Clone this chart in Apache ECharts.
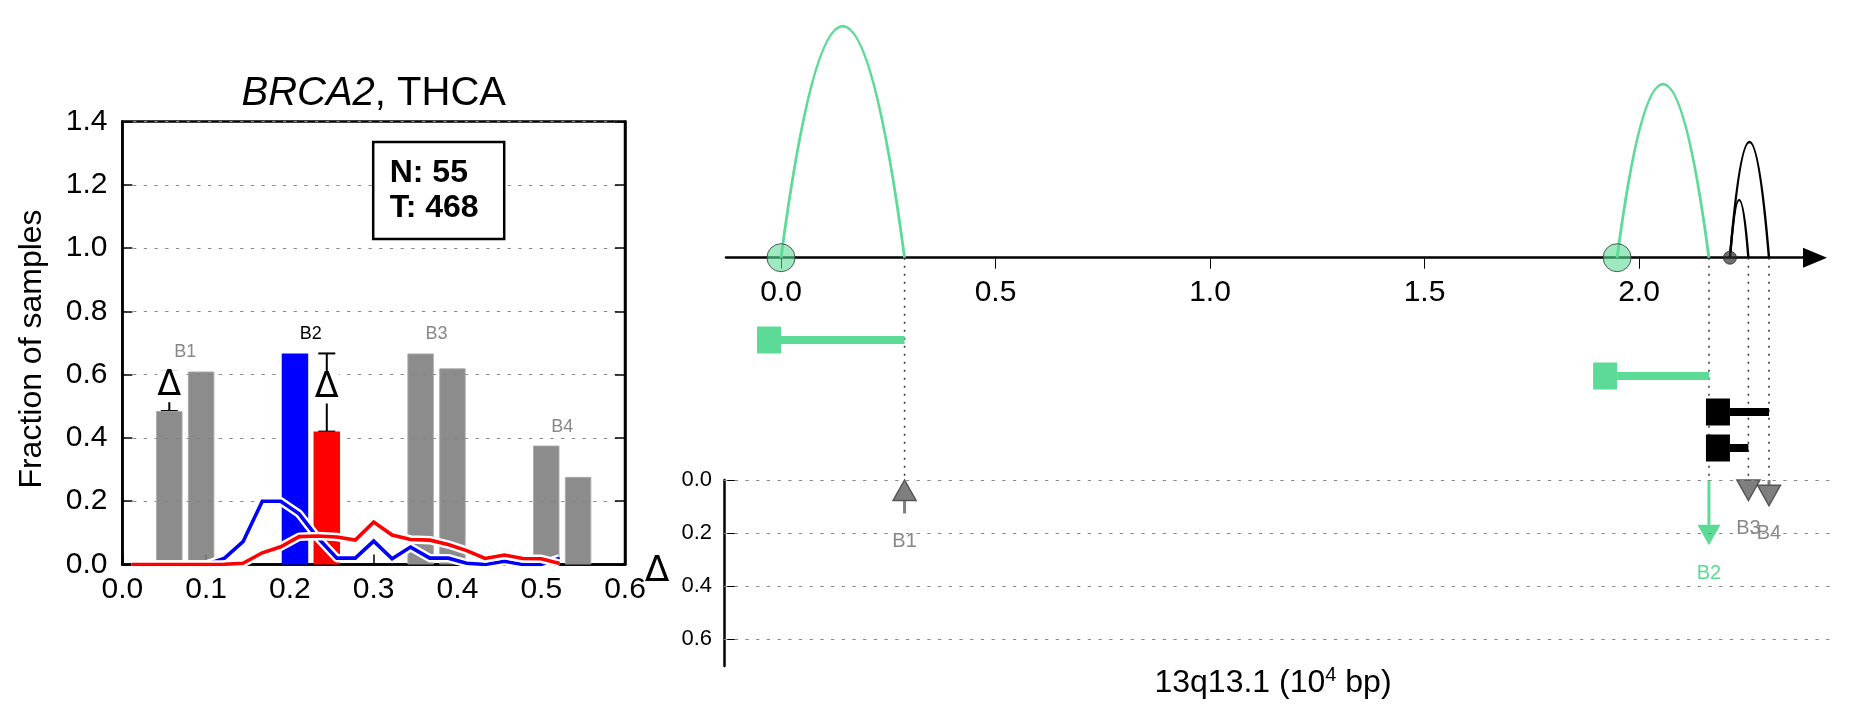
<!DOCTYPE html>
<html><head><meta charset="utf-8">
<script src="https://cdn.jsdelivr.net/npm/echarts@6/dist/echarts.min.js"></script>
<style>html,body{margin:0;padding:0;background:#fff}#c{width:1851px;height:718px}</style>
</head><body><div id="c"></div>
<script>
// ---------------- left panel data ----------------
const pairNames   = ['B1', 'B2', 'B3', 'B4'];
const firstX      = [0.056, 0.206, 0.356, 0.506];
const secondX     = [0.094, 0.244, 0.394, 0.544];
const firstVals   = [0.485, 0.667, 0.667, 0.376];
const secondVals  = [0.610, 0.420, 0.620, 0.277];
const highlighted = [false, true, false, false];
const showDelta   = [true, true, false, false];
const binX     = [0.011, 0.033, 0.056, 0.078, 0.100, 0.122, 0.144, 0.167, 0.189, 0.211, 0.233, 0.256,
                  0.278, 0.300, 0.322, 0.344, 0.367, 0.389, 0.411, 0.433, 0.456, 0.478, 0.500, 0.522];
const blueVals = [0, 0, 0, 0, 0, 0.020, 0.072, 0.200, 0.200, 0.160, 0.085, 0.020,
                  0.020, 0.074, 0.018, 0.055, 0.020, 0.020, 0.004, 0, 0.010, 0, 0, 0.020];
const redVals  = [0, 0, 0, 0, 0, 0.001, 0.004, 0.037, 0.056, 0.088, 0.090, 0.087,
                  0.077, 0.134, 0.093, 0.079, 0.077, 0.063, 0.044, 0.019, 0.030, 0.019, 0.018, 0.003];
const nCount = 55, tCount = 468;
const leftXTicks = [0, 0.1, 0.2, 0.3, 0.4, 0.5, 0.6];
const leftYTicks = [0, 0.2, 0.4, 0.6, 0.8, 1.0, 1.2, 1.4];

// ---------------- right panel data ----------------
const arcStart  = [0.000, 1.949, 2.212, 2.212];
const arcEnd    = [0.288, 2.163, 2.303, 2.255];
const arcReads  = [4, 3, 2, 1];
const arcGroup  = ['green', 'green', 'black', 'black'];
const bpNames   = ['B1', 'B2', 'B3', 'B4'];
const bpPos     = [0.288, 2.163, 2.255, 2.303];
const bpDelta   = [-0.126, 0.246, 0.047, 0.097];
const bpGroup   = ['gray', 'green', 'gray', 'gray'];
const posTicks   = [0, 0.5, 1.0, 1.5, 2.0];
const deltaTicks = [0, 0.2, 0.4, 0.6];

// ---------------- styling / layout ----------------
const FONT = 'Liberation Sans';
const MATH = 'DejaVu Sans';
const GREEN = '#5bdb96', BLUE = '#0000ff', RED = '#ff0000', GRAY = '#808080';
const groupColor = {green: GREEN, black: '#000', gray: '#7a7a7a'};
const PX0 = 781, PXU = 429;               // px of position 0 and px per 10^4 bp
const rng = (l, r) => ({min: (l - PX0) / PXU, max: (r - PX0) / PXU});
const topR = rng(726, 1815), lowR = rng(724, 1832);
const AXIS_Y = 257.7, ARC_TOP = 10, Y2MAX = 4.28;
const Y2MIN = -3.84;                       // guide lines reach down to the delta panel
const dash = [3.3, 7.4];

const pairIdx = pairNames.map((_, i) => i);
const colorBars = [], grayBars = [];
pairIdx.forEach(i => {
  if (highlighted[i]) {
    colorBars.push({value: [firstX[i], firstVals[i]], itemStyle: {color: BLUE}});
    colorBars.push({value: [secondX[i], secondVals[i]], itemStyle: {color: RED}});
  } else {
    grayBars.push([firstX[i], firstVals[i]]);
    grayBars.push([secondX[i], secondVals[i]]);
  }
});

const option = {
  animation: false,
  textStyle: {fontFamily: FONT},
  title: [
    {text: '{i|BRCA2}{n|, THCA}', left: 373.7, top: 73, textAlign: 'center', padding: 0,
     textStyle: {fontWeight: 'normal', rich: {
       i: {fontStyle: 'italic', fontWeight: 'normal', fontSize: 40, lineHeight: 42, fontFamily: FONT, color: '#000'},
       n: {fontWeight: 'normal', fontSize: 40, lineHeight: 42, fontFamily: FONT, color: '#000'}}}},
    {text: 'N: ' + nCount + '\nT: ' + tCount, left: 372.7, top: 141.4, padding: [14, 26, 14, 17],
     borderColor: '#000', borderWidth: 2.5, backgroundColor: '#fff',
     textStyle: {fontSize: 32, fontWeight: 'bold', lineHeight: 35, color: '#000', fontFamily: FONT}},
    {text: 'Δ', left: 657, top: 554, textAlign: 'center', padding: 0,
     textStyle: {fontSize: 36, fontWeight: 'normal', lineHeight: 36, color: '#000', fontFamily: MATH}},
    {text: '{a|13q13.1 (10}{s|4}{a| bp)}', left: 1273, top: 665, textAlign: 'center', padding: 0,
     textStyle: {fontWeight: 'normal', rich: {
       a: {fontSize: 32, fontWeight: 'normal', lineHeight: 36, color: '#000', fontFamily: FONT},
       s: {fontSize: 20, fontWeight: 'normal', lineHeight: 20, verticalAlign: 'top', color: '#000', fontFamily: FONT}}}}
  ],
  grid: [
    {left: 122.4, top: 121.5, width: 502.6, height: 443, show: true, borderColor: '#000', borderWidth: 2.5},
    {left: 726, top: ARC_TOP, width: 1815 - 726, height: AXIS_Y - ARC_TOP},
    {left: 726, top: 322, width: 1815 - 726, height: 144},
    {left: 724, top: 480, width: 1832 - 724, height: 185.9}
  ],
  xAxis: [
    {type: 'value', gridIndex: 0, min: leftXTicks[0], max: leftXTicks[leftXTicks.length - 1],
     interval: leftXTicks[1] - leftXTicks[0],
     axisLine: {lineStyle: {color: '#000', width: 2.5}},
     axisTick: {inside: true, length: 10, lineStyle: {color: '#000', width: 1.5}},
     axisLabel: {fontSize: 30, color: '#000', margin: 10, formatter: v => v.toFixed(1)},
     splitLine: {show: false}},
    {type: 'value', gridIndex: 1, min: topR.min, max: topR.max,
     axisLine: {onZero: false, symbol: ['none', 'triangle'], symbolSize: [20, 24],
                lineStyle: {color: '#000', width: 2.5}},
     axisTick: {show: true, length: 11, customValues: posTicks, lineStyle: {color: '#000', width: 1}},
     axisLabel: {fontSize: 30, color: '#000', margin: 20, customValues: posTicks, formatter: v => v.toFixed(1)},
     splitLine: {show: false}},
    {type: 'value', gridIndex: 2, min: topR.min, max: topR.max, show: false},
    {type: 'value', gridIndex: 3, min: lowR.min, max: lowR.max, show: false}
  ],
  yAxis: [
    {type: 'value', gridIndex: 0, min: leftYTicks[0], max: leftYTicks[leftYTicks.length - 1],
     interval: leftYTicks[1] - leftYTicks[0],
     axisLine: {show: true, lineStyle: {color: '#000', width: 2.5}},
     axisTick: {show: true, inside: true, length: 10, lineStyle: {color: '#000', width: 1.5}},
     axisLabel: {fontSize: 30, color: '#000', margin: 15, formatter: v => v.toFixed(1)},
     splitLine: {show: true, lineStyle: {type: dash, color: '#888', width: 1}},
     name: 'Fraction of samples', nameLocation: 'middle', nameGap: 74,
     nameTextStyle: {fontSize: 32, color: '#000', fontFamily: FONT, padding: [0, 12, 0, 0]}},
    {type: 'value', gridIndex: 0, position: 'right', min: leftYTicks[0], max: leftYTicks[leftYTicks.length - 1],
     interval: leftYTicks[1] - leftYTicks[0],
     axisLine: {show: true, lineStyle: {color: '#000', width: 2.5}},
     axisTick: {show: true, inside: true, length: 10, lineStyle: {color: '#000', width: 1.5}},
     axisLabel: {show: false}, splitLine: {show: false}},
    {type: 'value', gridIndex: 1, min: 0, max: Y2MAX, show: false},
    {type: 'value', gridIndex: 2, min: -0.5, max: 3.5, inverse: true, show: false},
    {type: 'value', gridIndex: 3, min: 0, max: 0.7, inverse: true,
     axisLine: {show: true, onZero: false, lineStyle: {color: '#000', width: 2.5}},
     axisTick: {show: true, inside: true, length: 12, customValues: deltaTicks, lineStyle: {color: '#000', width: 1}},
     axisLabel: {fontSize: 22, color: '#000', margin: 12, customValues: deltaTicks, formatter: v => v.toFixed(1)},
     splitLine: {show: false}}
  ],
  series: [
    // ---- left panel ----
    {type: 'bar', xAxisIndex: 0, yAxisIndex: 0, barWidth: 26.5, barGap: '-100%', data: colorBars},
    {type: 'line', xAxisIndex: 0, yAxisIndex: 0, symbol: 'none', data: binX.map((x, i) => [x, blueVals[i]]),
     lineStyle: {color: '#fff', width: 8.5, join: 'round'}},
    {type: 'line', xAxisIndex: 0, yAxisIndex: 0, symbol: 'none', data: binX.map((x, i) => [x, blueVals[i]]),
     lineStyle: {color: BLUE, width: 3.6, join: 'miter'}},
    {type: 'bar', xAxisIndex: 0, yAxisIndex: 0, barWidth: 26.5, barGap: '-100%', data: grayBars,
     itemStyle: {color: GRAY, opacity: 0.9, borderColor: '#a8a8a8', borderWidth: 1}},
    {type: 'line', xAxisIndex: 0, yAxisIndex: 0, symbol: 'none', data: binX.map((x, i) => [x, redVals[i]]),
     lineStyle: {color: '#fff', width: 8.5, join: 'round'}},
    {type: 'line', xAxisIndex: 0, yAxisIndex: 0, symbol: 'none', data: binX.map((x, i) => [x, redVals[i]]),
     lineStyle: {color: RED, width: 3.6, join: 'miter'}},
    // delta error bars
    {type: 'custom', xAxisIndex: 0, yAxisIndex: 0,
     data: pairIdx.filter(i => showDelta[i]).map(i => {
       const lowFirst = firstVals[i] < secondVals[i];
       return [lowFirst ? firstX[i] : secondX[i], Math.min(firstVals[i], secondVals[i]), Math.max(firstVals[i], secondVals[i])];
     }),
     renderItem: (params, api) => {
       const x = api.value(0);
       const lo = api.coord([x, api.value(1)]), hi = api.coord([x, api.value(2)]);
       const cx = lo[0], cw = 8.5, mid = (lo[1] + hi[1]) / 2;
       const st = {stroke: '#000', lineWidth: 2};
       return {type: 'group', children: [
         {type: 'line', shape: {x1: cx, y1: lo[1], x2: cx, y2: hi[1]}, style: st},
         {type: 'line', shape: {x1: cx - cw, y1: lo[1], x2: cx + cw, y2: lo[1]}, style: st},
         {type: 'line', shape: {x1: cx - cw, y1: hi[1], x2: cx + cw, y2: hi[1]}, style: st},
         {type: 'text', style: {text: 'Δ', x: cx, y: mid - 5, align: 'center', verticalAlign: 'middle',
           fontSize: 35, lineHeight: 26, fontFamily: MATH, fill: '#000', backgroundColor: '#fff', padding: [0, 0, 6, 0]}}
       ]};
     }},
    // pair labels
    {type: 'custom', xAxisIndex: 0, yAxisIndex: 0,
     data: pairIdx.map(i => [(firstX[i] + secondX[i]) / 2, Math.max(firstVals[i], secondVals[i]) + 0.06, i]),
     renderItem: (params, api) => {
       const p = api.coord([api.value(0), api.value(1)]);
       const i = api.value(2);
       return {type: 'text', style: {text: pairNames[i], x: p[0], y: p[1], align: 'center', verticalAlign: 'middle',
         fontSize: 18, fontFamily: FONT, fill: highlighted[i] ? '#000' : '#888'}};
     }},
    // ---- right panel ----
    // dotted guide lines
    {type: 'custom', xAxisIndex: 1, yAxisIndex: 2, data: bpPos.map(x => [x]),
     renderItem: (params, api) => {
       const a = api.coord([api.value(0), 0]), b = api.coord([api.value(0), Y2MIN]);
       return {type: 'line', shape: {x1: a[0], y1: a[1], x2: b[0], y2: b[1]},
         style: {stroke: '#333', lineWidth: 1.5, lineDash: [2, 6]}};
     }},
    // arcs
    {type: 'custom', xAxisIndex: 1, yAxisIndex: 2,
     data: arcStart.map((s, i) => [s, arcEnd[i], arcReads[i], i]),
     renderItem: (params, api) => {
       const s = api.value(0), e = api.value(1), h = api.value(2), i = api.value(3);
       const p0 = api.coord([s, 0]), p1 = api.coord([e, 0]), c = api.coord([(s + e) / 2, 2 * h]);
       return {type: 'bezierCurve', shape: {x1: p0[0], y1: p0[1], x2: p1[0], y2: p1[1], cpx1: c[0], cpy1: c[1]},
         style: {stroke: groupColor[arcGroup[i]], lineWidth: arcGroup[i] === 'green' ? 2.8 : 2.4, fill: null}};
     }},
    // arc start circles
    {type: 'scatter', xAxisIndex: 1, yAxisIndex: 2, symbol: 'circle',
     data: arcStart.map((s, i) => ({s, g: arcGroup[i]}))
       .filter((d, i, arr) => arr.findIndex(o => o.s === d.s) === i)
       .map(d => ({value: [d.s, 0], symbolSize: d.g === 'green' ? 28 : 13,
         itemStyle: d.g === 'green'
           ? {color: 'rgba(91,219,150,0.75)', borderColor: '#333', borderWidth: 1}
           : {color: 'rgba(45,45,45,0.85)', borderColor: '#222', borderWidth: 1}}))},
    // gene bars
    {type: 'custom', xAxisIndex: 2, yAxisIndex: 3,
     data: arcStart.map((s, i) => [s, arcEnd[i], i]),
     renderItem: (params, api) => {
       const i = api.value(2);
       const a = api.coord([api.value(0), i]), b = api.coord([api.value(1), i]);
       const col = groupColor[arcGroup[i]];
       return {type: 'group', children: [
         {type: 'rect', shape: {x: a[0] - 24, y: a[1] - 13.5, width: 24, height: 27}, style: {fill: col}},
         {type: 'rect', shape: {x: a[0], y: a[1] - 4, width: b[0] - a[0], height: 8}, style: {fill: col}}
       ]};
     }},
    // delta arrows
    {type: 'custom', xAxisIndex: 3, yAxisIndex: 4,
     data: bpPos.map((x, i) => [x, bpDelta[i], i]),
     markLine: {silent: true, symbol: ['none', 'none'], label: {show: false},
       lineStyle: {type: dash, color: '#888', width: 1},
       data: deltaTicks.map(v => ({yAxis: v}))},
     renderItem: (params, api) => {
       const x = api.value(0), d = api.value(1), i = api.value(2);
       const green = bpGroup[i] === 'green';
       const col = green ? GREEN : 'rgba(105,105,105,0.85)';
       const edge = green ? GREEN : '#555';
       const p0 = api.coord([x, 0]), p1 = api.coord([x, Math.abs(d)]);
       const px = p0[0], top = p0[1], dp = p1[1];
       const HL = 20.5, HW = 23;
       const ch = [];
       let bottom;
       if (d >= 0) {
         const tip = Math.max(dp, top + HL);
         if (tip - HL > top + 0.5) ch.push({type: 'line', shape: {x1: px, y1: top, x2: px, y2: tip - HL},
           style: {stroke: col, lineWidth: 3}});
         ch.push({type: 'polygon', shape: {points: [[px - HW / 2, tip - HL], [px + HW / 2, tip - HL], [px, tip]]},
           style: {fill: col, stroke: edge, lineWidth: green ? 0 : 1.5}});
         bottom = tip;
       } else {
         ch.push({type: 'line', shape: {x1: px, y1: top + HL, x2: px, y2: dp}, style: {stroke: col, lineWidth: 3}});
         ch.push({type: 'polygon', shape: {points: [[px, top], [px - HW / 2, top + HL], [px + HW / 2, top + HL]]},
           style: {fill: col, stroke: edge, lineWidth: green ? 0 : 1.5}});
         bottom = Math.max(dp, top + HL);
       }
       ch.push({type: 'text', style: {text: bpNames[i], x: px, y: bottom + 28, align: 'center', verticalAlign: 'middle',
         fontSize: 20, fontFamily: FONT, fill: green ? GREEN : '#888'}});
       return {type: 'group', children: ch};
     }}
  ]
};
const chart = echarts.init(document.getElementById('c'));
chart.setOption(option);
</script>
</body></html>
